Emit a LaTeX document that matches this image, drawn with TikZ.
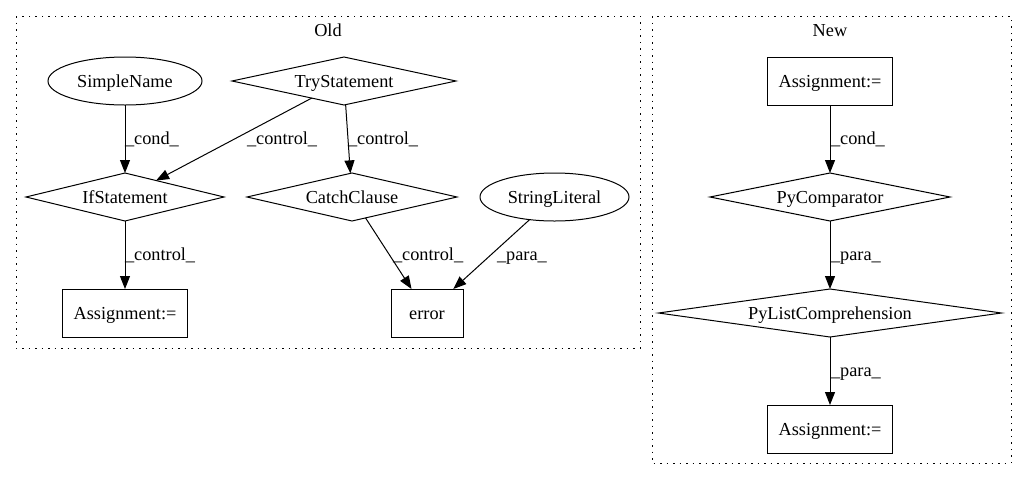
\documentclass[tikz,border=0pt]{standalone}
\usepackage{fontspec}
\setmainfont{Liberation Serif}
\usetikzlibrary{shapes.geometric,arrows.meta}
\begin{document}
\begin{tikzpicture}[x=1pt,y=-1pt,
  every node/.style={font=\fontsize{18.3pt}{22pt}\selectfont, inner sep=0pt, outer sep=0pt, text height=12.5pt, text depth=0.5pt},
  box/.style={draw, rectangle, line width=1pt, minimum width=125pt, minimum height=48pt},
  dia/.style={draw, diamond, aspect=7, line width=1pt, minimum height=48pt},
  ell/.style={draw, ellipse, line width=1pt, minimum height=48pt},
  lbl/.style={anchor=base west},
  ttl/.style={anchor=base},
  arr/.style={-{Triangle[length=13pt,width=10pt]}, line width=1pt},
  cluster/.style={dash pattern=on 1.5pt off 5pt, line width=1pt}]
\useasboundingbox (0,0) rectangle (1027,480);

% clusters
\draw[cluster] (16,16) rectangle (640,348);
\draw[cluster] (652,16) rectangle (1011,463);
\node[ttl] (oldt) at (328,36) {Old};
\node[ttl] (newt) at (830,36) {New};

% Old nodes
\node[ell, minimum width=154pt] (sn) at (125,81) {SimpleName};
\node[dia, minimum width=224pt] (try) at (344,81) {TryStatement};
\node[dia, minimum width=198pt] (if) at (125,197) {IfStatement};
\node[dia, minimum width=210pt] (catch) at (352,197) {CatchClause};
\node[ell, minimum width=149pt] (str) at (554.5,197) {StringLiteral};
\node[box] (oa) at (125,313) {Assignment:=};
\node[box, minimum width=72pt] (err) at (427,313) {error};

% New nodes
\node[box] (na1) at (830,81) {Assignment:=};
\node[dia, minimum width=240pt] (pc) at (830,197) {PyComparator};
\node[dia, minimum width=343pt] (plc) at (830,313) {PyListComprehension};
\node[box] (na2) at (830,429) {Assignment:=};

% Old edges
\draw[arr] (sn) -- (if);
\draw[arr] (try) -- (if);
\draw[arr] (try) -- (catch);
\draw[arr] (if) -- (oa);
\draw[arr] (catch) -- (err);
\draw[arr] (str) -- (err);

% New edges
\draw[arr] (na1) -- (pc);
\draw[arr] (pc) -- (plc);
\draw[arr] (plc) -- (na2);

% labels
\node[lbl] (l1) at (125,144) {\_cond\_};
\node[lbl] (l2) at (247,144) {\_control\_};
\node[lbl] (l3) at (348,144) {\_control\_};
\node[lbl] (l4) at (125,260) {\_control\_};
\node[lbl] (l5) at (393,260) {\_control\_};
\node[lbl] (l6) at (497,260) {\_para\_};
\node[lbl] (l7) at (831,144) {\_cond\_};
\node[lbl] (l8) at (831,260) {\_para\_};
\node[lbl] (l9) at (831,376) {\_para\_};
\end{tikzpicture}
\end{document}
